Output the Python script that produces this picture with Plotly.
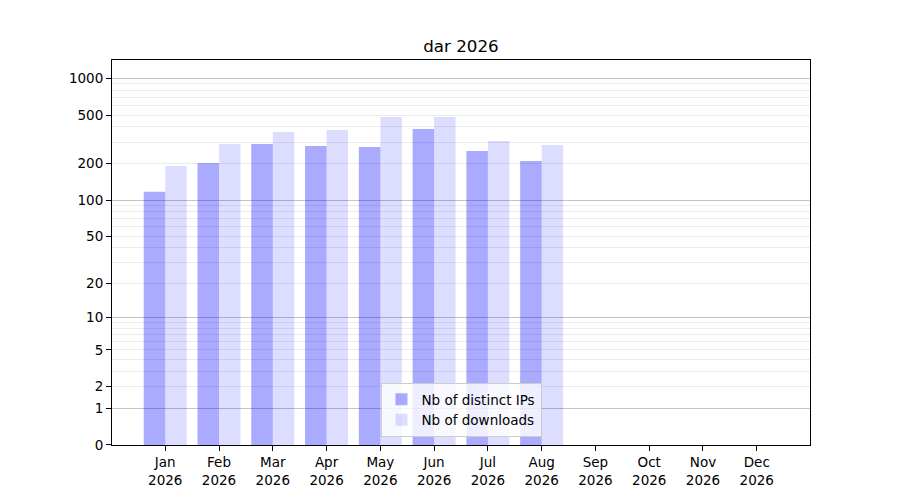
import math
import plotly.graph_objects as go

months = ["Jan", "Feb", "Mar", "Apr", "May", "Jun", "Jul", "Aug", "Sep", "Oct", "Nov", "Dec"]
year = "2026"
distinct_ips = [117, 202, 290, 279, 274, 384, 254, 210, 0, 0, 0, 0]
downloads = [191, 290, 364, 378, 482, 482, 306, 284, 0, 0, 0, 0]
y_ticks = [0, 1, 2, 5, 10, 20, 50, 100, 200, 500, 1000]
major_grid = [1, 10, 100, 1000]
minor_grid = [m * d for d in [1, 10, 100] for m in range(2, 10)]
y_top = 1414

# the y scale is log10(1 + value): shown on a log axis of (1 + value)
x = list(range(len(months)))
tick_text = [f"{m}<br>{year}" for m in months]

fig = go.Figure()
fig.add_trace(go.Bar(
    x=x, y=[v + 1 for v in distinct_ips], name="Nb of distinct IPs",
    marker=dict(color="rgba(0,0,255,0.333)", line=dict(width=0)),
))
fig.add_trace(go.Bar(
    x=x, y=[v + 1 for v in downloads], name="Nb of downloads",
    marker=dict(color="rgba(0,0,255,0.133)", line=dict(width=0)),
))
fig.add_trace(go.Scatter(
    x=[0], y=[1], yaxis="y2", mode="markers", marker=dict(opacity=0),
    showlegend=False, hoverinfo="skip",
))

yrange = [-0.0003, math.log10(y_top + 1)]

fig.update_layout(
    width=892, height=492,
    margin=dict(l=104, r=90, t=52, b=55),
    paper_bgcolor="white", plot_bgcolor="white",
    font=dict(family="DejaVu Sans", size=13.5, color="black"),
    title=dict(text="dar 2026", xref="paper", x=0.5, xanchor="center",
               y=0.9228, yanchor="middle",
               font=dict(size=16.7, color="black")),
    barmode="group", bargap=0.2, bargroupgap=0,
    showlegend=True,
    legend=dict(x=0.5, xanchor="center", y=0.0208, yanchor="bottom",
                bgcolor="rgba(255,255,255,0.8)", bordercolor="#cccccc", borderwidth=1,
                font=dict(size=13.5), tracegroupgap=0),
    xaxis=dict(
        range=[-0.99, 11.99], tickmode="array", tickvals=x, ticktext=tick_text,
        showgrid=False, zeroline=False, showline=True, mirror=True,
        linecolor="black", linewidth=1, ticks="outside", ticklen=5, tickcolor="black",
        tickfont=dict(size=13.5),
    ),
    yaxis=dict(
        type="log", range=yrange, tickmode="array",
        tickvals=[t + 1 for t in y_ticks], ticktext=[str(t) for t in y_ticks],
        showgrid=False, zeroline=False, showline=True, mirror=True,
        linecolor="black", linewidth=1, ticks="outside", ticklen=5, tickcolor="black",
        tickfont=dict(size=13.5),
        minor=dict(tickmode="array", tickvals=[t + 1 for t in minor_grid],
                   showgrid=True, gridcolor="#ebebeb", gridwidth=1, ticks=""),
    ),
    yaxis2=dict(
        type="log", range=yrange, overlaying="y", side="left",
        tickmode="array", tickvals=[t + 1 for t in major_grid],
        showticklabels=False, ticks="", showgrid=True, gridcolor="#c4c4c4",
        gridwidth=1, zeroline=False, showline=False,
    ),
)

fig.write_html("out.html")
